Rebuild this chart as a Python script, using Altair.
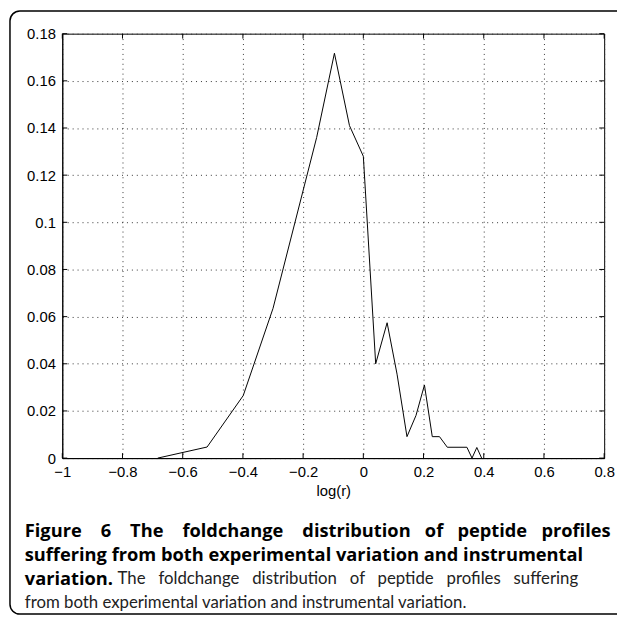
import altair as alt
import pandas as pd

# data
x_vals = [-0.683, -0.519, -0.399, -0.30, -0.155, -0.096, -0.046, 0.0, 0.041, 0.079,
          0.112, 0.145, 0.175, 0.203, 0.229, 0.253, 0.279, 0.344, 0.361, 0.377, 0.393]
y_vals = [0.0, 0.0047, 0.0265, 0.0635, 0.136, 0.1717, 0.141, 0.128, 0.040, 0.0574,
          0.0356, 0.0091, 0.0181, 0.031, 0.0091, 0.0091, 0.0046, 0.0046, 0.0, 0.0045, 0.0]
x_ticks = [-1.0, -0.8, -0.6, -0.4, -0.2, 0.0, 0.2, 0.4, 0.6, 0.8]
y_ticks = [0.0, 0.02, 0.04, 0.06, 0.08, 0.1, 0.12, 0.14, 0.16, 0.18]

NB = "\u00a0"
caption_1_words = ["Figure", "6", "The", "foldchange", "distribution", "of", "peptide", "profiles"]
caption_1_gaps = [3, 3, 3, 3, 2, 2, 2]
caption_1 = caption_1_words[0] + "".join(
    " " + NB * g + w for g, w in zip(caption_1_gaps, caption_1_words[1:]))
caption_2 = "suffering from both experimental variation and instrumental"
caption_3a = "variation."
caption_3b_words = ["The", "foldchange", "distribution", "of", "peptide", "profiles", "suffering"]
caption_3b_gaps = [2, 2, 2, 2, 2, 2]
caption_3b = caption_3b_words[0] + "".join(
    " " + NB * g + w for g, w in zip(caption_3b_gaps, caption_3b_words[1:]))
caption_4 = "from both experimental variation and instrumental variation."

W, H = 549, 430
AX_FONT = "Liberation Sans"
BOLD_FONT = "Open Sans"
REG_FONT = "Lato"

xs = alt.Scale(domain=[-1, 0.8], nice=False, zero=False)
ys = alt.Scale(domain=[0, 0.18], nice=False, zero=False)

df = pd.DataFrame({"x": x_vals, "y": y_vals})

line = alt.Chart(df).mark_line(color="black", strokeWidth=1).encode(
    x=alt.X("x:Q", scale=xs, axis=alt.Axis(
        values=x_ticks, format="~g", title="log(r)", grid=True, ticks=False,
        gridDash=[1, 4], gridColor="#333", gridWidth=1,
        domainColor="black", labelFont=AX_FONT, labelFontSize=15, labelColor="black",
        labelPadding=7, titleFont=AX_FONT, titleFontSize=15, titleFontWeight="normal",
        titleColor="black", titlePadding=4, labelFlush=False)),
    y=alt.Y("y:Q", scale=ys, axis=alt.Axis(
        values=y_ticks, format="~g", title=None, grid=True, ticks=False,
        gridDash=[1, 4], gridColor="#333", gridWidth=1,
        domainColor="black", labelFont=AX_FONT, labelFontSize=15, labelColor="black",
        labelPadding=7, labelFlush=False)),
)

xt = pd.DataFrame({"v": x_ticks})
yt = pd.DataFrame({"v": y_ticks})
tick_b = alt.Chart(xt).mark_rule(color="black").encode(
    x=alt.X("v:Q", scale=xs), y=alt.value(H), y2=alt.value(H - 5))
tick_t = alt.Chart(xt).mark_rule(color="black").encode(
    x=alt.X("v:Q", scale=xs), y=alt.value(0), y2=alt.value(5))
tick_l = alt.Chart(yt).mark_rule(color="black").encode(
    y=alt.Y("v:Q", scale=ys), x=alt.value(0), x2=alt.value(5))
tick_r = alt.Chart(yt).mark_rule(color="black").encode(
    y=alt.Y("v:Q", scale=ys), x=alt.value(W), x2=alt.value(W - 5))

one = pd.DataFrame({"k": [0]})
border = alt.Chart(one).mark_rect(fillOpacity=0, stroke="black", strokeWidth=1.5,
                                  cornerRadius=10).encode(
    x=alt.value(-53), x2=alt.value(600), y=alt.value(-23), y2=alt.value(588))


def cap(text, x, y, bold):
    return alt.Chart(pd.DataFrame({"t": [text]})).mark_text(
        font=BOLD_FONT if bold else REG_FONT, fontSize=18.5 if bold else 17,
        fontWeight="bold" if bold else "normal",
        align="left", baseline="middle", color="black" if bold else "#222").encode(
        text="t:N", x=alt.value(x), y=alt.value(y))


caps = [
    cap(caption_1, -38, 504, True),
    cap(caption_2, -38, 528, True),
    cap(caption_3a, -38, 553, True),
    cap(caption_3b, 56, 553, False),
    cap(caption_4, -38, 577, False),
]

chart = alt.layer(line, tick_b, tick_t, tick_l, tick_r, border, *caps).properties(
    width=W, height=H,
    autosize=alt.AutoSizeParams(type="none"),
    padding={"left": 55, "top": 22, "right": 13, "bottom": 159},
).configure_view(stroke="black", strokeWidth=1)

chart.save("out.html", embed_options={"renderer": "svg", "actions": False})
